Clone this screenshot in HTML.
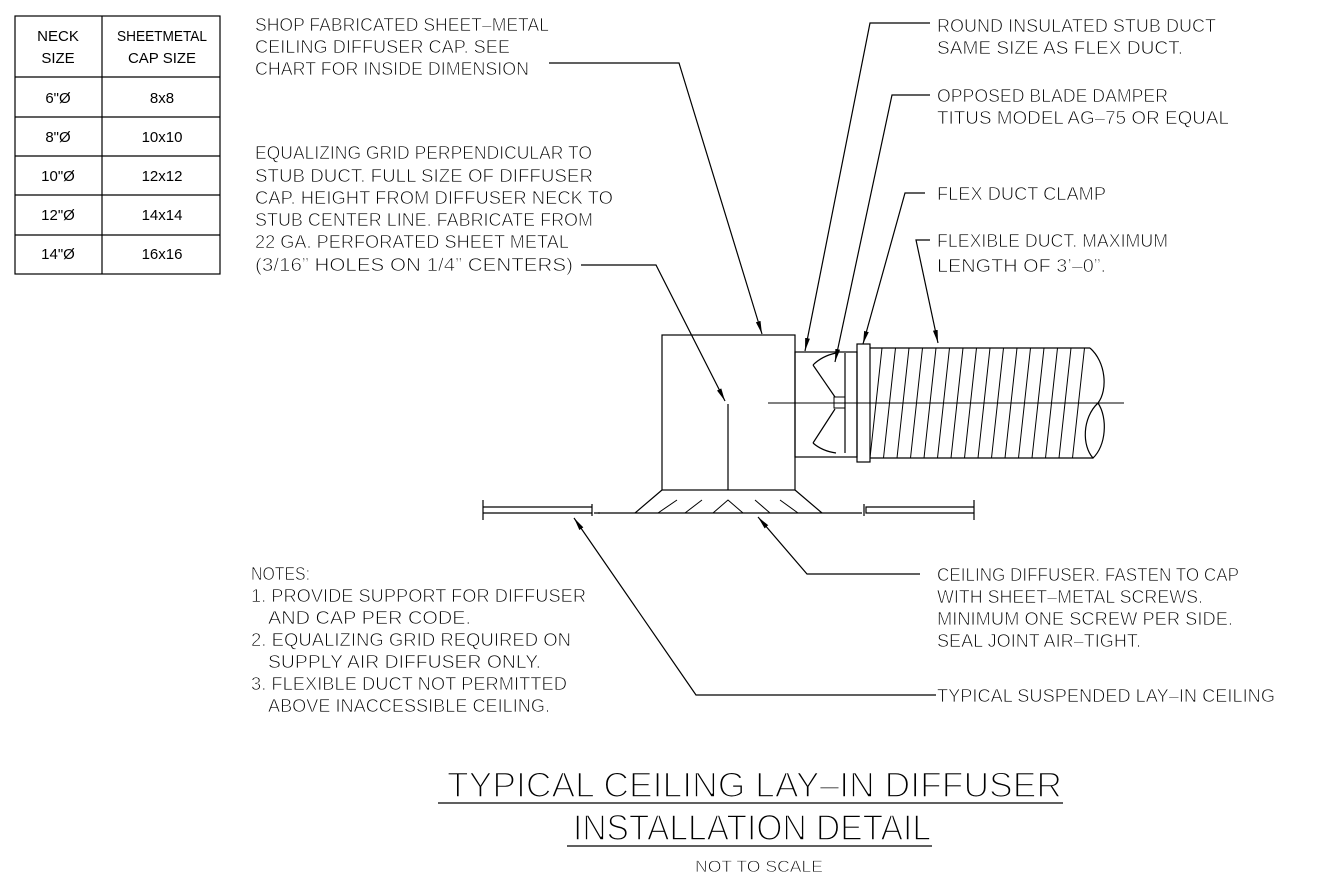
<!DOCTYPE html>
<html><head><meta charset="utf-8"><style>
html,body{margin:0;padding:0;background:#fff;}
svg{display:block;}
text{font-family:"Liberation Sans",sans-serif;fill:#000;}
.t{stroke:#fff;stroke-width:0.7px;}
.big{stroke:#fff;stroke-width:1.6px;}
</style></head><body>
<svg width="1338" height="892" viewBox="0 0 1338 892" xmlns="http://www.w3.org/2000/svg">
<defs>
<marker id="a" markerWidth="14" markerHeight="6" refX="13" refY="3" orient="auto" markerUnits="userSpaceOnUse">
<path d="M0,0.6 L13,3 L0,5.4 Z" fill="#000"/>
</marker>
</defs>
<g stroke="#000" stroke-width="1.2" fill="none">
<rect x="15" y="16" width="205" height="258"/>
<line x1="102" y1="16" x2="102" y2="274"/>
<line x1="15" y1="77" x2="220" y2="77"/>
<line x1="15" y1="117" x2="220" y2="117"/>
<line x1="15" y1="156" x2="220" y2="156"/>
<line x1="15" y1="195" x2="220" y2="195"/>
<line x1="15" y1="235" x2="220" y2="235"/>
</g>
<g font-size="15" text-anchor="middle">
<text x="58" y="41">NECK</text><text x="58" y="63">SIZE</text>
<text x="162" y="41" textLength="90" lengthAdjust="spacingAndGlyphs">SHEETMETAL</text><text x="162" y="63">CAP SIZE</text>
<text x="58" y="103">6"Ø</text><text x="162" y="103">8x8</text>
<text x="58" y="142">8"Ø</text><text x="162" y="142">10x10</text>
<text x="58" y="181">10"Ø</text><text x="162" y="181">12x12</text>
<text x="58" y="220">12"Ø</text><text x="162" y="220">14x14</text>
<text x="58" y="259">14"Ø</text><text x="162" y="259">16x16</text>
</g>

<g stroke="#000" stroke-width="1.2" fill="none">
<rect x="662" y="335" width="133" height="155"/>
<line x1="728" y1="404" x2="728" y2="490"/>
<rect x="795" y="352" width="62" height="105"/>
<rect x="857" y="344" width="13" height="118"/>
<line x1="845" y1="353" x2="845" y2="453"/>
<path d="M813,365 Q822,356 836,353"/>
<line x1="813" y1="365" x2="835" y2="397"/>
<path d="M813,443 Q822,451 836,453"/>
<line x1="813" y1="443" x2="835" y2="409"/>
<rect x="834" y="397" width="11" height="11" stroke-width="1"/>
<line x1="768" y1="403" x2="1124" y2="403" stroke-width="1"/>
<line x1="870" y1="348" x2="1090" y2="348"/>
<line x1="870" y1="458" x2="1093" y2="458"/>
<path d="M1090,348 C1106,362 1108,390 1098,403"/>
<path d="M1098,403 C1082,418 1082,446 1093,458 C1106,446 1108,418 1098,403"/>
<path d="M870,458 L882,348 M883.5,458 L895.5,348 M897,458 L909,348 M910.5,458 L922.5,348 M924,458 L936,348 M937.5,458 L949.5,348 M951,458 L963,348 M964.5,458 L976.5,348 M978,458 L990,348 M991.5,458 L1003.5,348 M1005,458 L1017,348 M1018.5,458 L1030.5,348 M1032,458 L1044,348 M1045.5,458 L1057.5,348 M1059,458 L1071,348 M1072.5,458 L1084.5,348" stroke-width="1"/>
<path d="M662,490 L635,513 M795,490 L822,513"/>
<line x1="598" y1="513" x2="862" y2="513"/>
<path d="M658,513 L677,500 M685,513 L702,500 M713,513 L728,500 L743,513 M755,500 L770,513 M780,500 L798,513" stroke-width="1"/>
<path d="M483,500 L483,520 M483,507 L592,507 L592,513 L483,513 M592,504 L592,516 M594,513 L600,513"/>
<path d="M974,500 L974,520 M974,507 L866,507 L866,513 L974,513 M864,504 L864,516"/>
<path d="M549,63 L679,63 L762,334" marker-end="url(#a)"/>
<path d="M581,265 L656,265 L725,401" marker-end="url(#a)"/>
<path d="M930,23 L870,23 L805,351" marker-end="url(#a)"/>
<path d="M930,95 L892,95 L835,362" marker-end="url(#a)"/>
<path d="M925,193 L905,193 L863,344" marker-end="url(#a)"/>
<path d="M930,240 L916,240 L938,343" marker-end="url(#a)"/>
<path d="M920,574 L807,574 L758,517" marker-end="url(#a)"/>
<path d="M936,695 L696,695 L574,518" marker-end="url(#a)"/>
<line x1="438" y1="803" x2="1063" y2="803"/>
<line x1="567" y1="846" x2="932" y2="846"/>
</g>

<g font-size="18" class="t">
<text x="255" y="31" textLength="294" lengthAdjust="spacingAndGlyphs">SHOP FABRICATED SHEET–METAL</text>
<text x="255" y="53" textLength="255" lengthAdjust="spacingAndGlyphs">CEILING DIFFUSER CAP. SEE</text>
<text x="255" y="75" textLength="274" lengthAdjust="spacingAndGlyphs">CHART FOR INSIDE DIMENSION</text>
<text x="255" y="159" textLength="337" lengthAdjust="spacingAndGlyphs">EQUALIZING GRID PERPENDICULAR TO</text>
<text x="255" y="182" textLength="338" lengthAdjust="spacingAndGlyphs">STUB DUCT. FULL SIZE OF DIFFUSER</text>
<text x="255" y="204" textLength="358" lengthAdjust="spacingAndGlyphs">CAP. HEIGHT FROM DIFFUSER NECK TO</text>
<text x="255" y="226" textLength="338" lengthAdjust="spacingAndGlyphs">STUB CENTER LINE. FABRICATE FROM</text>
<text x="255" y="248" textLength="314" lengthAdjust="spacingAndGlyphs">22 GA. PERFORATED SHEET METAL</text>
<text x="255" y="271" textLength="318" lengthAdjust="spacingAndGlyphs">(3/16” HOLES ON 1/4” CENTERS)</text>

<text x="937" y="32" textLength="279" lengthAdjust="spacingAndGlyphs">ROUND INSULATED STUB DUCT</text>
<text x="937" y="54" textLength="246" lengthAdjust="spacingAndGlyphs">SAME SIZE AS FLEX DUCT.</text>
<text x="937" y="102" textLength="231" lengthAdjust="spacingAndGlyphs">OPPOSED BLADE DAMPER</text>
<text x="937" y="124" textLength="292" lengthAdjust="spacingAndGlyphs">TITUS MODEL AG–75 OR EQUAL</text>
<text x="937" y="200" textLength="169" lengthAdjust="spacingAndGlyphs">FLEX DUCT CLAMP</text>
<text x="937" y="247" textLength="231" lengthAdjust="spacingAndGlyphs">FLEXIBLE DUCT. MAXIMUM</text>
<text x="937" y="272" textLength="169" lengthAdjust="spacingAndGlyphs">LENGTH OF 3’–0”.</text>

<text x="937" y="581" textLength="302" lengthAdjust="spacingAndGlyphs">CEILING DIFFUSER. FASTEN TO CAP</text>
<text x="937" y="603" textLength="266" lengthAdjust="spacingAndGlyphs">WITH SHEET–METAL SCREWS.</text>
<text x="937" y="625" textLength="296" lengthAdjust="spacingAndGlyphs">MINIMUM ONE SCREW PER SIDE.</text>
<text x="937" y="647" textLength="204" lengthAdjust="spacingAndGlyphs">SEAL JOINT AIR–TIGHT.</text>
<text x="937" y="702" textLength="338" lengthAdjust="spacingAndGlyphs">TYPICAL SUSPENDED LAY–IN CEILING</text>

<text x="251" y="580" textLength="59" lengthAdjust="spacingAndGlyphs">NOTES:</text>
<text x="251" y="602" textLength="335" lengthAdjust="spacingAndGlyphs">1. PROVIDE SUPPORT FOR DIFFUSER</text>
<text x="268" y="624" textLength="203" lengthAdjust="spacingAndGlyphs">AND CAP PER CODE.</text>
<text x="251" y="646" textLength="320" lengthAdjust="spacingAndGlyphs">2. EQUALIZING GRID REQUIRED ON</text>
<text x="268" y="668" textLength="273" lengthAdjust="spacingAndGlyphs">SUPPLY AIR DIFFUSER ONLY.</text>
<text x="251" y="690" textLength="316" lengthAdjust="spacingAndGlyphs">3. FLEXIBLE DUCT NOT PERMITTED</text>
<text x="268" y="712" textLength="282" lengthAdjust="spacingAndGlyphs">ABOVE INACCESSIBLE CEILING.</text>
</g>

<text class="big" x="447" y="797" font-size="35" textLength="615" lengthAdjust="spacingAndGlyphs">TYPICAL CEILING LAY–IN DIFFUSER</text>
<text class="big" x="573" y="840" font-size="36" textLength="358" lengthAdjust="spacingAndGlyphs">INSTALLATION DETAIL</text>
<text class="t" x="695" y="872" font-size="17" textLength="128" lengthAdjust="spacingAndGlyphs">NOT TO SCALE</text>
</svg>
</body></html>
